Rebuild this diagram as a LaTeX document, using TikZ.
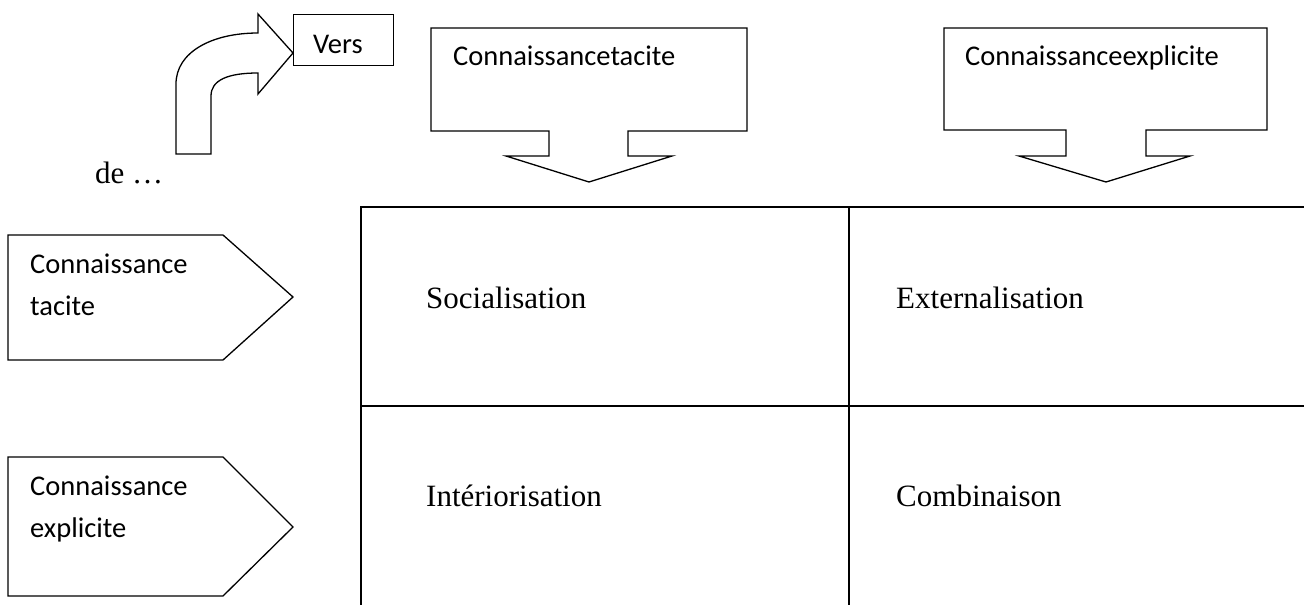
\documentclass[tikz,border=0pt]{standalone}
\usepackage{fontspec}
\setmainfont{Liberation Serif}
\newfontfamily\calib{Carlito}
\begin{document}
\begin{tikzpicture}[x=1pt,y=-1pt,
  shapeline/.style={draw=black,line width=1.3pt,line join=miter},
  gridline/.style={draw=black,line width=2.2pt},
  sanslabel/.style={inner sep=0pt,anchor=base west,font=\calib\fontsize{28.5}{34}\selectfont},
  seriflabel/.style={inner sep=0pt,anchor=base west,font=\fontsize{31}{36}\selectfont}]
\useasboundingbox (0,0) rectangle (1304,605);

% bent arrow pointing to the "Vers" box
\draw[shapeline] (176,154) -- (176,84)
  .. controls (176,52) and (212,33) .. (258,33)
  -- (258,14) -- (293,53) -- (258,94) -- (258,73)
  .. controls (228,73) and (211,80) .. (211,96)
  -- (211,154) -- cycle;
\node[shapeline,anchor=north west,minimum width=100pt,minimum height=51pt,inner sep=0pt] (versbox) at (293,14) {};
\node[sanslabel] (verstxt) at (313,53) {Vers};
\node[seriflabel] (detxt) at (95,183) {de \dots};

% callouts over the two columns
\draw[shapeline] (431,28) -- (747,28) -- (747,131) -- (628,131) -- (628,156)
  -- (672,156) -- (589,182) -- (506,156) -- (549,156) -- (549,131)
  -- (431,131) -- cycle;
\node[sanslabel] (coltacit) at (453,65) {Connaissancetacite};
\draw[shapeline] (944,28) -- (1267,28) -- (1267,130) -- (1146,130) -- (1146,156)
  -- (1190,156) -- (1106,182) -- (1019,156) -- (1066,156) -- (1066,130)
  -- (944,130) -- cycle;
\node[sanslabel] (colexpl) at (965,65) {Connaissanceexplicite};

% pentagons in front of the two rows
\draw[shapeline] (8,235) -- (223,235) -- (293,297) -- (223,360) -- (8,360) -- cycle;
\node[sanslabel] (rowtacitA) at (30,273) {Connaissance};
\node[sanslabel] (rowtacitB) at (30,315) {tacite};
\draw[shapeline] (8,457) -- (223,457) -- (293,527) -- (223,596) -- (8,596) -- cycle;
\node[sanslabel] (rowexplA) at (30,495) {Connaissance};
\node[sanslabel] (rowexplB) at (30,537) {explicite};

% the 2x2 matrix
\draw[gridline] (361,605) -- (361,207) -- (1304,207);
\draw[gridline] (849,207) -- (849,605);
\draw[gridline] (361,406) -- (1304,406);
\node[seriflabel] (socia) at (426,308) {Socialisation};
\node[seriflabel] (exter) at (896,308) {Externalisation};
\node[seriflabel] (inter) at (426,506) {Intériorisation};
\node[seriflabel] (combi) at (896,506) {Combinaison};
\end{tikzpicture}
\end{document}
